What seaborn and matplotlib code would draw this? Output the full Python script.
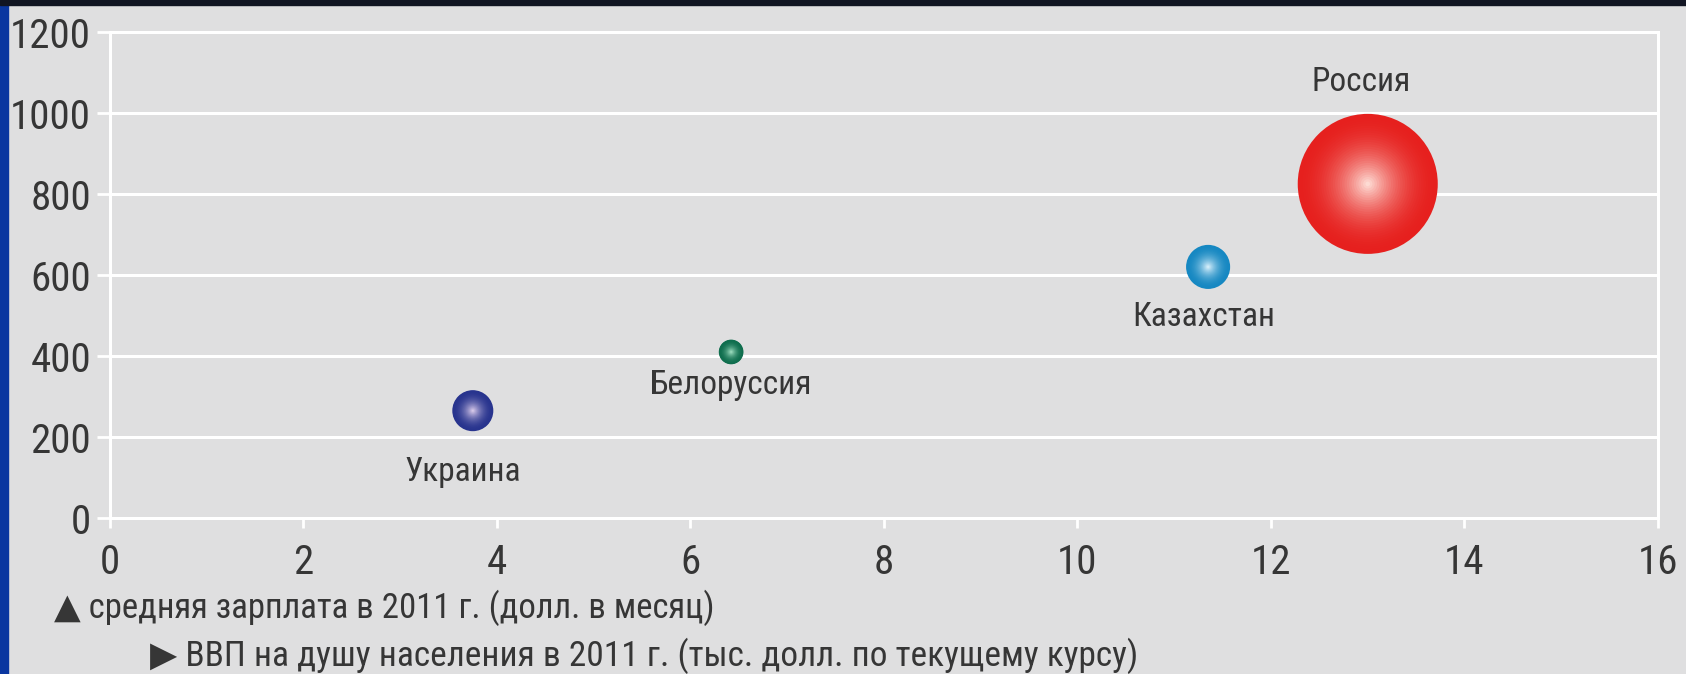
###############################################################################
# Import Libraries
###############################################################################
import numpy as np
import pandas as pd
import matplotlib
matplotlib.use('Agg')
import matplotlib.pyplot as plt
import matplotlib.colors as mcolors
from matplotlib import font_manager
from matplotlib.patches import Rectangle
import seaborn as sns


###############################################################################
# Data
###############################################################################
countries = ['Украина', 'Белоруссия', 'Казахстан', 'Россия']
gdp_per_capita = [3.75, 6.42, 11.35, 13.0]      # тыс. долл.
avg_wage = [265, 410, 620, 825]                 # долл. в месяц
gdp_total = [163, 59, 188, 1900]                # bubble size (млрд. долл.)

x_ticks = [0, 2, 4, 6, 8, 10, 12, 14, 16]
y_ticks = [0, 200, 400, 600, 800, 1000, 1200]

note_wage = '▲ средняя зарплата в 2011 г. (долл. в месяц)'
note_gdp = '▶ ВВП на душу населения в 2011 г. (тыс. долл. по текущему курсу)'


###############################################################################
# Style
###############################################################################
bg = '#dfdfe0'
txt_col = '#363636'
base_cols = {'Украина': '#28348e', 'Белоруссия': '#0f6e4e',
             'Казахстан': '#1688c2', 'Россия': '#e6201e'}
hl_cols = {'Украина': '#e4d4f0', 'Белоруссия': '#a8e6c8',
           'Казахстан': '#e4f6ff', 'Россия': '#ffe8e0'}
# label offsets (points) relative to bubble centre
label_off = {'Украина': (-7, -44), 'Белоруссия': (0, -24),
             'Казахстан': (-3, -36), 'Россия': (-5, 73)}

sns.set_theme(style='white', rc={'axes.facecolor': bg,
                                 'figure.facecolor': bg})

# pick a condensed face if one is installed, else the narrowest available
installed = {f.name for f in font_manager.fontManager.ttflist}
narrow = [n for n in ['Liberation Sans Narrow', 'DejaVu Sans Condensed',
                      'Roboto Condensed', 'Open Sans Condensed']
          if n in installed]
if narrow:
    main_font, scale = narrow[0], 1.0
else:
    main_font, scale = 'Roboto', 0.8
fonts = [main_font, 'DejaVu Sans']
plt.rcParams['font.family'] = fonts

df = pd.DataFrame({'country': countries, 'x': gdp_per_capita,
                   'y': avg_wage, 'gdp': gdp_total})
size_k = 5.35  # pt^2 per bln $

fig = plt.figure(figsize=(16.86, 6.74), dpi=100)
ax = fig.add_axes([0.06524, 0.23145, 0.91815, 0.72107])

# horizontal grid
for yv in y_ticks:
    ax.axhline(yv, color='white', lw=2.2, zorder=1)

# bubbles drawn as stacked layers to fake a radial gradient
n_layers = 30
for i in range(n_layers):
    r = 1 - i / n_layers
    t = (1 - r) ** 2
    pal = {c: mcolors.to_hex(
        (1 - t) * np.array(mcolors.to_rgb(base_cols[c]))
        + t * np.array(mcolors.to_rgb(hl_cols[c]))) for c in countries}
    sizes = {c: g * size_k * r ** 2 for c, g in zip(countries, gdp_total)}
    sns.scatterplot(data=df, x='x', y='y', hue='country', palette=pal,
                    size='country', sizes=sizes, linewidth=0,
                    legend=False, ax=ax, zorder=3 + i)

for c, xv, yv in zip(countries, gdp_per_capita, avg_wage):
    ax.annotate(c, (xv, yv), xytext=label_off[c], textcoords='offset points',
                ha='center', va='center', fontsize=24 * scale, color=txt_col,
                family=fonts, zorder=50)

ax.set_xlim(0, 16)
ax.set_ylim(0, 1200)
ax.set_xticks(x_ticks)
ax.set_yticks(y_ticks)
ax.set_xlabel('')
ax.set_ylabel('')
ax.tick_params(axis='y', direction='out', length=9.5, width=2, color='white',
               pad=4, labelsize=29.5 * scale, labelcolor=txt_col, left=True)
ax.tick_params(axis='x', direction='out', length=7, width=2, color='white',
               pad=11, labelsize=29.5 * scale, labelcolor=txt_col,
               bottom=True)
for s in ax.spines.values():
    s.set_color('white')
    s.set_linewidth(2.2)

fig.text(54 / 1686, 1 - 608 / 674, note_wage, fontsize=25 * scale,
         color=txt_col, va='center', ha='left', family=fonts)
fig.text(150 / 1686, 1 - 656 / 674, note_gdp, fontsize=25.5 * scale,
         color=txt_col, va='center', ha='left', family=fonts)

# frame: blue stripe on the left, dark stripe on top
fig.patches.append(Rectangle((0, 0), 8 / 1686, 1, transform=fig.transFigure,
                             color='#0a36a0', zorder=0))
fig.patches.append(Rectangle((0, 1 - 5 / 674), 1, 5 / 674,
                             transform=fig.transFigure, color='#111522',
                             zorder=0))

fig.savefig('out.png', dpi=100, facecolor=bg)
